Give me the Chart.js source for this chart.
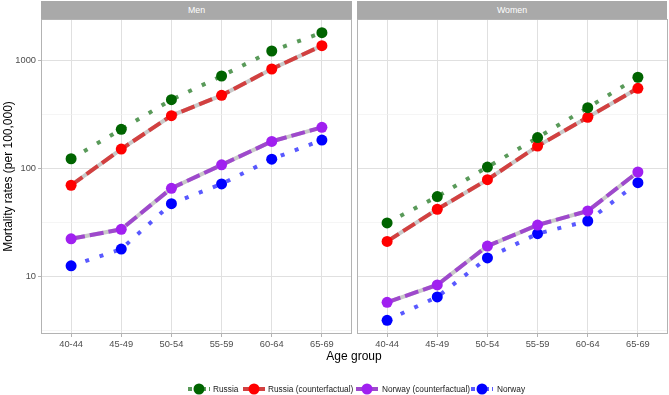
<!DOCTYPE html>
<html>
<head>
<meta charset="utf-8">
<script src="https://cdn.jsdelivr.net/npm/chart.js@4"></script>
<style>
  html, body { margin:0; padding:0; background:#fff; width:669px; height:395px; overflow:hidden; }
  body { position:relative; font-family:"Liberation Sans", Arial, sans-serif; }
  canvas { position:absolute; }
  .strip { position:absolute; top:1px; height:18px; background:#A9A9A9; color:#fff; font-size:8.8px; line-height:18px; text-align:center; }
  .xtitle { position:absolute; left:254px; width:200px; top:349px; text-align:center; font-size:12px; color:#000; }
  .legend { position:absolute; top:382px; height:14px; font-size:8.3px; color:#1A1A1A; }
  .legend span { position:absolute; white-space:nowrap; line-height:14px; }
  .legend svg { position:absolute; }
</style>
</head>
<body>
<div class="strip" style="left:41px;width:311px;">Men</div>
<div class="strip" style="left:357px;width:310px;">Women</div>
<canvas id="men" width="353" height="336" style="left:0;top:18px;width:353px;height:336px;"></canvas>
<canvas id="women" width="313" height="336" style="left:356px;top:18px;width:313px;height:336px;"></canvas>
<div class="xtitle">Age group</div>
<div class="legend" id="legend"></div>
<script>
// ---- data ----
const ageGroups = ['40-44', '45-49', '50-54', '55-59', '60-64', '65-69'];
const seriesNames = ['Russia', 'Russia (counterfactual)', 'Norway (counterfactual)', 'Norway'];
const menRussia     = [123, 230, 432, 716, 1219, 1800];
const menRussiaCF   = [70, 151, 308, 474, 831, 1365];
const menNorwayCF   = [22.4, 27.4, 65.6, 108, 178, 240];
const menNorway     = [12.6, 18, 47.3, 72, 122, 183];
const womenRussia   = [31.4, 55, 103, 193, 365, 697];
const womenRussiaCF = [21.2, 42, 78.8, 161, 297, 551];
const womenNorwayCF = [5.8, 8.4, 19.2, 30, 40.5, 92.8];
const womenNorway   = [3.95, 6.5, 14.9, 25, 32.7, 74];
const yMajorTicks = [10, 100, 1000];
const yMinorTicks = [3.1623, 31.623, 316.23];
const yMin = 2.953, yMax = 2408;

// ---- styles ----
const pointColors = ['#006400', '#FF0000', '#A020F0', '#0000FF'];
const lineColors  = ['rgba(0,100,0,0.65)', 'rgba(212,40,40,0.85)', 'rgba(150,50,205,0.85)', 'rgba(0,0,255,0.65)'];
const lineDashes  = [[4, 11], [14, 5], [14, 5], [4, 11]];
const greyUnder   = [false, true, true, false];

Chart.defaults.font.family = '"Liberation Sans", Arial, sans-serif';
Chart.defaults.animation = false;

const toXY = arr => arr.map((v, i) => ({ x: i, y: v }));

function makeDatasets(series) {
  const ds = [];
  series.forEach((arr, k) => {
    ds.push({ data: toXY(arr), showLine: false, pointRadius: 5.5, pointHoverRadius: 5.5,
      pointBorderWidth: 0, pointBackgroundColor: pointColors[k], borderColor: pointColors[k], order: 1 });
  });
  series.forEach((arr, k) => {
    ds.push({ data: toXY(arr), borderColor: lineColors[k], borderWidth: 4, borderDash: lineDashes[k],
      borderCapStyle: 'butt', pointRadius: 0, tension: 0, fill: false, order: 2 });
  });
  series.forEach((arr, k) => {
    if (greyUnder[k]) ds.push({ data: toXY(arr), borderColor: '#C9C9C9', borderWidth: 4,
      pointRadius: 0, tension: 0, fill: false, order: 3 });
  });
  return ds;
}

const borderPlugin = {
  id: 'panelBorder',
  beforeDatasetsDraw(chart) {
    const a = chart.chartArea, c = chart.ctx;
    c.save(); c.strokeStyle = '#B3B3B3'; c.lineWidth = 1;
    c.strokeRect(Math.round(a.left) + 0.5, Math.round(a.top) + 0.5,
      Math.round(a.right - a.left) - 1, Math.round(a.bottom - a.top) - 1);
    c.restore();
  }
};

function isMajor(v) { return yMajorTicks.some(t => Math.abs(t - v) < 1e-6); }
function zeroPad(s) { s.paddingTop = 0; s.paddingBottom = 0; s.paddingLeft = 0; s.paddingRight = 0; }

function makeChart(id, series, showY, padLeft) {
  return new Chart(document.getElementById(id), {
    type: 'line',
    data: { datasets: makeDatasets(series) },
    plugins: [borderPlugin],
    options: {
      responsive: false, devicePixelRatio: 1, animation: false,
      layout: { autoPadding: false, padding: { left: padLeft, right: 1, top: 1, bottom: 0 } },
      plugins: { legend: { display: false }, tooltip: { enabled: false } },
      scales: {
        x: {
          type: 'linear', min: -0.6, max: 5.6,
          afterBuildTicks: s => { s.ticks = ageGroups.map((g, i) => ({ value: i })); },
          afterFit: s => { s.height = 20; zeroPad(s); },
          border: { display: false },
          grid: { color: '#E0E0E0', lineWidth: 1, drawTicks: true, tickLength: 3, tickColor: '#B3B3B3' },
          ticks: { autoSkip: false, maxRotation: 0, padding: 2, color: '#4D4D4D', font: { size: 9.3 },
            callback: v => ageGroups[v] }
        },
        y: {
          type: 'logarithmic', min: yMin, max: yMax,
          afterBuildTicks: s => {
            s.ticks = yMinorTicks.concat(yMajorTicks).sort((a, b) => a - b).map(v => ({ value: v, major: isMajor(v) }));
          },
          afterFit: s => { s.width = showY ? 41 : 0; zeroPad(s); },
          border: { display: false },
          grid: {
            color: c => (c.tick && isMajor(c.tick.value)) ? '#E0E0E0' : '#EEEEEE',
            lineWidth: c => (c.tick && isMajor(c.tick.value)) ? 1 : 0.6,
            drawTicks: showY, tickLength: 3,
            tickColor: c => (c.tick && isMajor(c.tick.value)) ? '#B3B3B3' : 'rgba(0,0,0,0)'
          },
          ticks: { display: showY, autoSkip: false, padding: 2, color: '#4D4D4D', font: { size: 9.3 },
            callback: v => isMajor(v) ? String(Math.round(v)) : '' },
          title: { display: showY, text: 'Mortality rates (per 100,000)', color: '#000',
            font: { size: 12 }, padding: { top: 1, bottom: 0 } }
        }
      }
    }
  });
}

makeChart('men', [menRussia, menRussiaCF, menNorwayCF, menNorway], true, 0);
makeChart('women', [womenRussia, womenRussiaCF, womenNorwayCF, womenNorway], false, 1);

// ---- legend (HTML) ----
const legendPos = [[199, 213], [254, 268], [367, 382], [482, 497]];
const leg = document.getElementById('legend');
seriesNames.forEach((name, k) => {
  const [mx, tx] = legendPos[k];
  const dash = lineDashes[k][0] === 4 ? '4 3' : '';
  const grey = greyUnder[k] ? '<line x1="0" y1="7" x2="22" y2="7" stroke="#C9C9C9" stroke-width="4"/>' : '';
  leg.insertAdjacentHTML('beforeend',
    `<svg width="22" height="14" style="left:${mx - 11}px;top:0">${grey}` +
    `<line x1="0" y1="7" x2="22" y2="7" stroke="${lineColors[k]}" stroke-width="4" ${dash ? `stroke-dasharray="${dash}"` : ''}/>` +
    `<circle cx="11" cy="7" r="5.5" fill="${pointColors[k]}"/></svg>` +
    `<span style="left:${tx}px;top:0">${name}</span>`);
});
</script>
</body>
</html>
